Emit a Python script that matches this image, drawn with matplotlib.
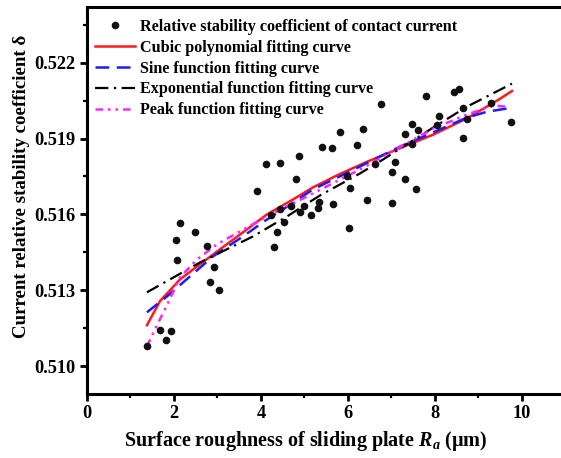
import matplotlib
matplotlib.use("Agg")
import matplotlib.pyplot as plt
from matplotlib.ticker import MultipleLocator, FormatStrFormatter

plt.rcParams['font.family'] = ['Liberation Serif', 'DejaVu Serif']
plt.rcParams['font.weight'] = 'bold'
plt.rcParams['mathtext.fontset'] = 'custom'
plt.rcParams['mathtext.rm'] = 'Liberation Serif:bold'
plt.rcParams['mathtext.it'] = 'Liberation Serif:italic:bold'

# measured points: surface roughness Ra (um) vs relative stability coefficient
ra = [1.379, 1.678, 1.931, 1.816, 2.046, 2.069, 2.138, 2.483, 2.759, 2.828,
      2.920, 3.034, 3.908, 4.115, 4.437, 4.805, 4.874, 5.402, 5.632, 6.207,
      6.345, 5.816, 4.230, 4.299, 4.368, 4.437, 4.529, 4.690, 4.897, 4.989,
      5.149, 5.310, 5.333, 5.655, 5.977, 6.046, 6.023, 6.437, 6.621, 7.080,
      7.011, 7.310, 7.563, 7.011, 6.759, 7.793, 8.437, 8.552, 7.471, 8.092,
      8.644, 8.046, 7.609, 7.310, 8.736, 7.471, 8.644, 9.287, 9.747]
delta = [0.51079, 0.51142, 0.51138, 0.51103, 0.51497, 0.51418, 0.51568, 0.51529,
         0.51474, 0.51332, 0.51391, 0.51300, 0.51691, 0.51801, 0.51805, 0.51742,
         0.51829, 0.51868, 0.51864, 0.51876, 0.51939, 0.51924, 0.51596, 0.51470,
         0.51529, 0.51620, 0.51572, 0.51632, 0.51608, 0.51635, 0.51596, 0.51624,
         0.51651, 0.51643, 0.51750, 0.51703, 0.51545, 0.51659, 0.51801, 0.51809,
         0.51766, 0.51742, 0.51699, 0.51647, 0.52038, 0.52070, 0.52085, 0.52097,
         0.51959, 0.51991, 0.52022, 0.51955, 0.51935, 0.51916, 0.51979, 0.51880,
         0.51904, 0.52042, 0.51967]

# fitted curves
cubic_x = [1.379, 1.678, 2.138, 2.598, 3.057, 3.678, 4.138, 4.736, 5.195,
           5.816, 6.437, 7.195, 7.954, 8.736, 9.494, 9.770]
cubic_y = [0.51162, 0.51257, 0.51343, 0.51403, 0.51462, 0.51541, 0.51600,
           0.51659, 0.51707, 0.51760, 0.51808, 0.51862, 0.51915, 0.51980,
           0.52057, 0.52088]

sine_x = [1.379, 1.839, 2.368, 2.897, 3.586, 4.138, 4.506, 5.195, 6.046,
          7.195, 7.954, 8.736, 9.195, 9.770]
sine_y = [0.51213, 0.51276, 0.51355, 0.51434, 0.51513, 0.51580, 0.51620,
          0.51699, 0.51770, 0.51868, 0.51924, 0.51983, 0.52006, 0.52022]

exp_x = [1.379, 2.598, 3.816, 4.598, 5.356, 6.276, 6.805, 7.954, 8.736, 9.770]
exp_y = [0.51292, 0.51410, 0.51513, 0.51592, 0.51675, 0.51762, 0.51817,
         0.51943, 0.52026, 0.52117]

peak_x = [1.379, 1.563, 1.793, 2.138, 2.529, 2.989, 3.517, 4.138, 5.195,
          6.276, 7.954, 8.736, 9.333, 9.678]
peak_y = [0.51079, 0.51146, 0.51225, 0.51351, 0.51422, 0.51482, 0.51533,
          0.51592, 0.51683, 0.51778, 0.51939, 0.51995, 0.52030, 0.52026]

fig = plt.figure(figsize=(5.61, 4.58), dpi=100)
ax = fig.add_axes([0.155, 0.1397, 0.853, 0.845])

ax.plot(ra, delta, 'o', color='#111111', markersize=5.5, markeredgewidth=0,
        label='Relative stability coefficient of contact current', zorder=5)
ax.plot(cubic_x, cubic_y, '-', color='#ff1a1a', lw=1.8,
        label='Cubic polynomial fitting curve')
ax.plot(sine_x, sine_y, color='#1a1aff', lw=1.8, dashes=(5.5, 3),
        label='Sine function fitting curve')
ax.plot(exp_x, exp_y, color='black', lw=1.6, dashes=(6, 2.5, 1, 2.5),
        label='Exponential function fitting curve')
ax.plot(peak_x, peak_y, color='#ff22ff', lw=1.8, dashes=(3, 2, 1, 2, 1, 2),
        label='Peak function fitting curve')

ax.set_xlim(0, 11)
ax.set_ylim(0.5089, 0.5242)
ax.xaxis.set_major_locator(MultipleLocator(2))
ax.xaxis.set_minor_locator(MultipleLocator(1))
ax.yaxis.set_major_locator(MultipleLocator(0.003))
ax.yaxis.set_minor_locator(MultipleLocator(0.0015))
ax.yaxis.set_major_formatter(FormatStrFormatter('%.3f'))

for s in ax.spines.values():
    s.set_linewidth(2.2)
ax.tick_params(which='major', direction='out', length=5, width=2,
               labelsize=13.2, pad=3)
ax.tick_params(which='minor', direction='out', length=3, width=1.6)
ax.tick_params(top=False, right=False)

ax.set_xlabel(r'Surface roughness of sliding plate $R_a$ (μm)',
              fontsize=14.5, fontweight='bold', labelpad=5)
ax.set_ylabel('Current relative stability coefficient δ',
              fontsize=13.6, fontweight='bold', labelpad=3)
ax.xaxis.label.set_x(0.458)
ax.yaxis.label.set_y(0.537)

ax.legend(loc='upper left', bbox_to_anchor=(0.0, 0.99), frameon=False,
          handlelength=2.5, handletextpad=0.3,
          labelspacing=0.3, borderaxespad=0.3, borderpad=0.2,
          prop={'weight': 'bold', 'size': 11.6})

fig.savefig('out.png', dpi=100)
